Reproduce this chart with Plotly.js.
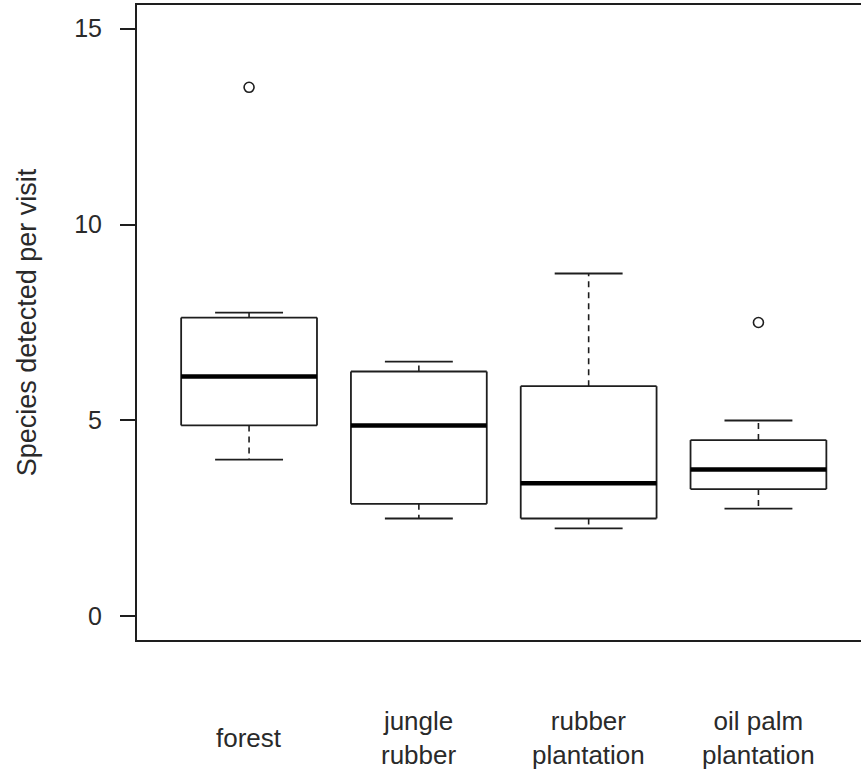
<!DOCTYPE html>
<html>
<head>
<meta charset="utf-8">
<script src="https://cdn.plot.ly/plotly-3.0.1.min.js"></script>
<style>html,body{margin:0;padding:0;background:#fff;}#chart{width:861px;height:776px;}</style>
</head>
<body>
<div id="chart"></div>
<script>
// ---- data ----
const categories = ['forest', 'jungle<br>rubber', 'rubber<br>plantation', 'oil palm<br>plantation'];
const lowerWhisker = [4.0, 2.5, 2.25, 2.75];
const q1 = [4.875, 2.875, 2.5, 3.25];
const median = [6.125, 4.875, 3.4, 3.75];
const q3 = [7.625, 6.25, 5.875, 4.5];
const upperWhisker = [7.75, 6.5, 8.75, 5.0];
const outlierGroup = [1, 4];
const outlierValues = [13.5, 7.5];
const yTicks = [0, 5, 10, 15];
const yTitle = 'Species detected per visit';

// ---- styling constants ----
const ink = '#1e1e1e';
const txt = '#2a2a2a';
const fontFam = 'Liberation Sans, Arial, sans-serif';
const halfBox = 0.4;
const halfCap = 0.2;

const pos = categories.map((_, i) => i + 1);

function seg(arr) { // arr of [x0,y0,x1,y1] -> x,y with nulls
  const x = [], y = [];
  arr.forEach(s => { x.push(s[0], s[2], null); y.push(s[1], s[3], null); });
  return {x, y};
}

const boxSegs = [];
pos.forEach((p, i) => {
  boxSegs.push([p - halfBox, q1[i], p + halfBox, q1[i]]);
  boxSegs.push([p + halfBox, q1[i], p + halfBox, q3[i]]);
  boxSegs.push([p + halfBox, q3[i], p - halfBox, q3[i]]);
  boxSegs.push([p - halfBox, q3[i], p - halfBox, q1[i]]);
});
const whiskSegs = [];
pos.forEach((p, i) => {
  whiskSegs.push([p, q3[i], p, upperWhisker[i]]);
  whiskSegs.push([p, q1[i], p, lowerWhisker[i]]);
});
const capSegs = [];
pos.forEach((p, i) => {
  capSegs.push([p - halfCap, upperWhisker[i], p + halfCap, upperWhisker[i]]);
  capSegs.push([p - halfCap, lowerWhisker[i], p + halfCap, lowerWhisker[i]]);
});
const medSegs = pos.map((p, i) => [p - halfBox, median[i], p + halfBox, median[i]]);

const b = seg(boxSegs), w = seg(whiskSegs), c = seg(capSegs), m = seg(medSegs);

const traces = [
  {type: 'scatter', mode: 'lines', x: w.x, y: w.y, line: {color: ink, width: 1.6, dash: '6px,5px'}, hoverinfo: 'skip', showlegend: false},
  {type: 'scatter', mode: 'lines', x: c.x, y: c.y, line: {color: ink, width: 1.8}, hoverinfo: 'skip', showlegend: false},
  {type: 'scatter', mode: 'lines', x: b.x, y: b.y, line: {color: ink, width: 1.8}, hoverinfo: 'skip', showlegend: false},
  {type: 'scatter', mode: 'lines', x: m.x, y: m.y, line: {color: '#000', width: 4.5}, hoverinfo: 'skip', showlegend: false},
  {type: 'scatter', mode: 'markers', x: outlierGroup, y: outlierValues,
   marker: {symbol: 'circle-open', size: 10, color: ink, line: {width: 1.6, color: ink}}, hoverinfo: 'skip', showlegend: false}
];

const annotations = pos.map((p, i) => ({
  x: p, xref: 'x', y: -0.1543, yref: 'paper', text: categories[i], showarrow: false,
  xanchor: 'center', yanchor: 'middle', align: 'center', valign: 'middle',
  font: {family: fontFam, size: 26, color: txt}
}));

const layout = {
  width: 861, height: 776,
  margin: {l: 137, r: 0, t: 5, b: 136},
  paper_bgcolor: '#fff', plot_bgcolor: '#fff',
  font: {family: fontFam, color: txt, size: 25},
  xaxis: {range: [0.34, 4.604], showgrid: false, zeroline: false, showticklabels: false, ticks: '',
          showline: true, mirror: true, linecolor: ink, linewidth: 2, fixedrange: true},
  yaxis: {range: [-0.6, 15.6], showgrid: false, zeroline: false, tickvals: yTicks, ticktext: yTicks.map(String),
          ticks: 'outside', ticklen: 15, tickwidth: 2, tickcolor: ink, ticklabelstandoff: 13,
          showline: true, linecolor: ink, linewidth: 2, fixedrange: true,
          tickfont: {family: fontFam, size: 25, color: txt},
          title: {text: yTitle, font: {family: fontFam, size: 27, color: txt}, standoff: 30}},
  annotations: annotations
};

Plotly.newPlot('chart', traces, layout, {displayModeBar: false, staticPlot: true});
</script>
</body>
</html>
